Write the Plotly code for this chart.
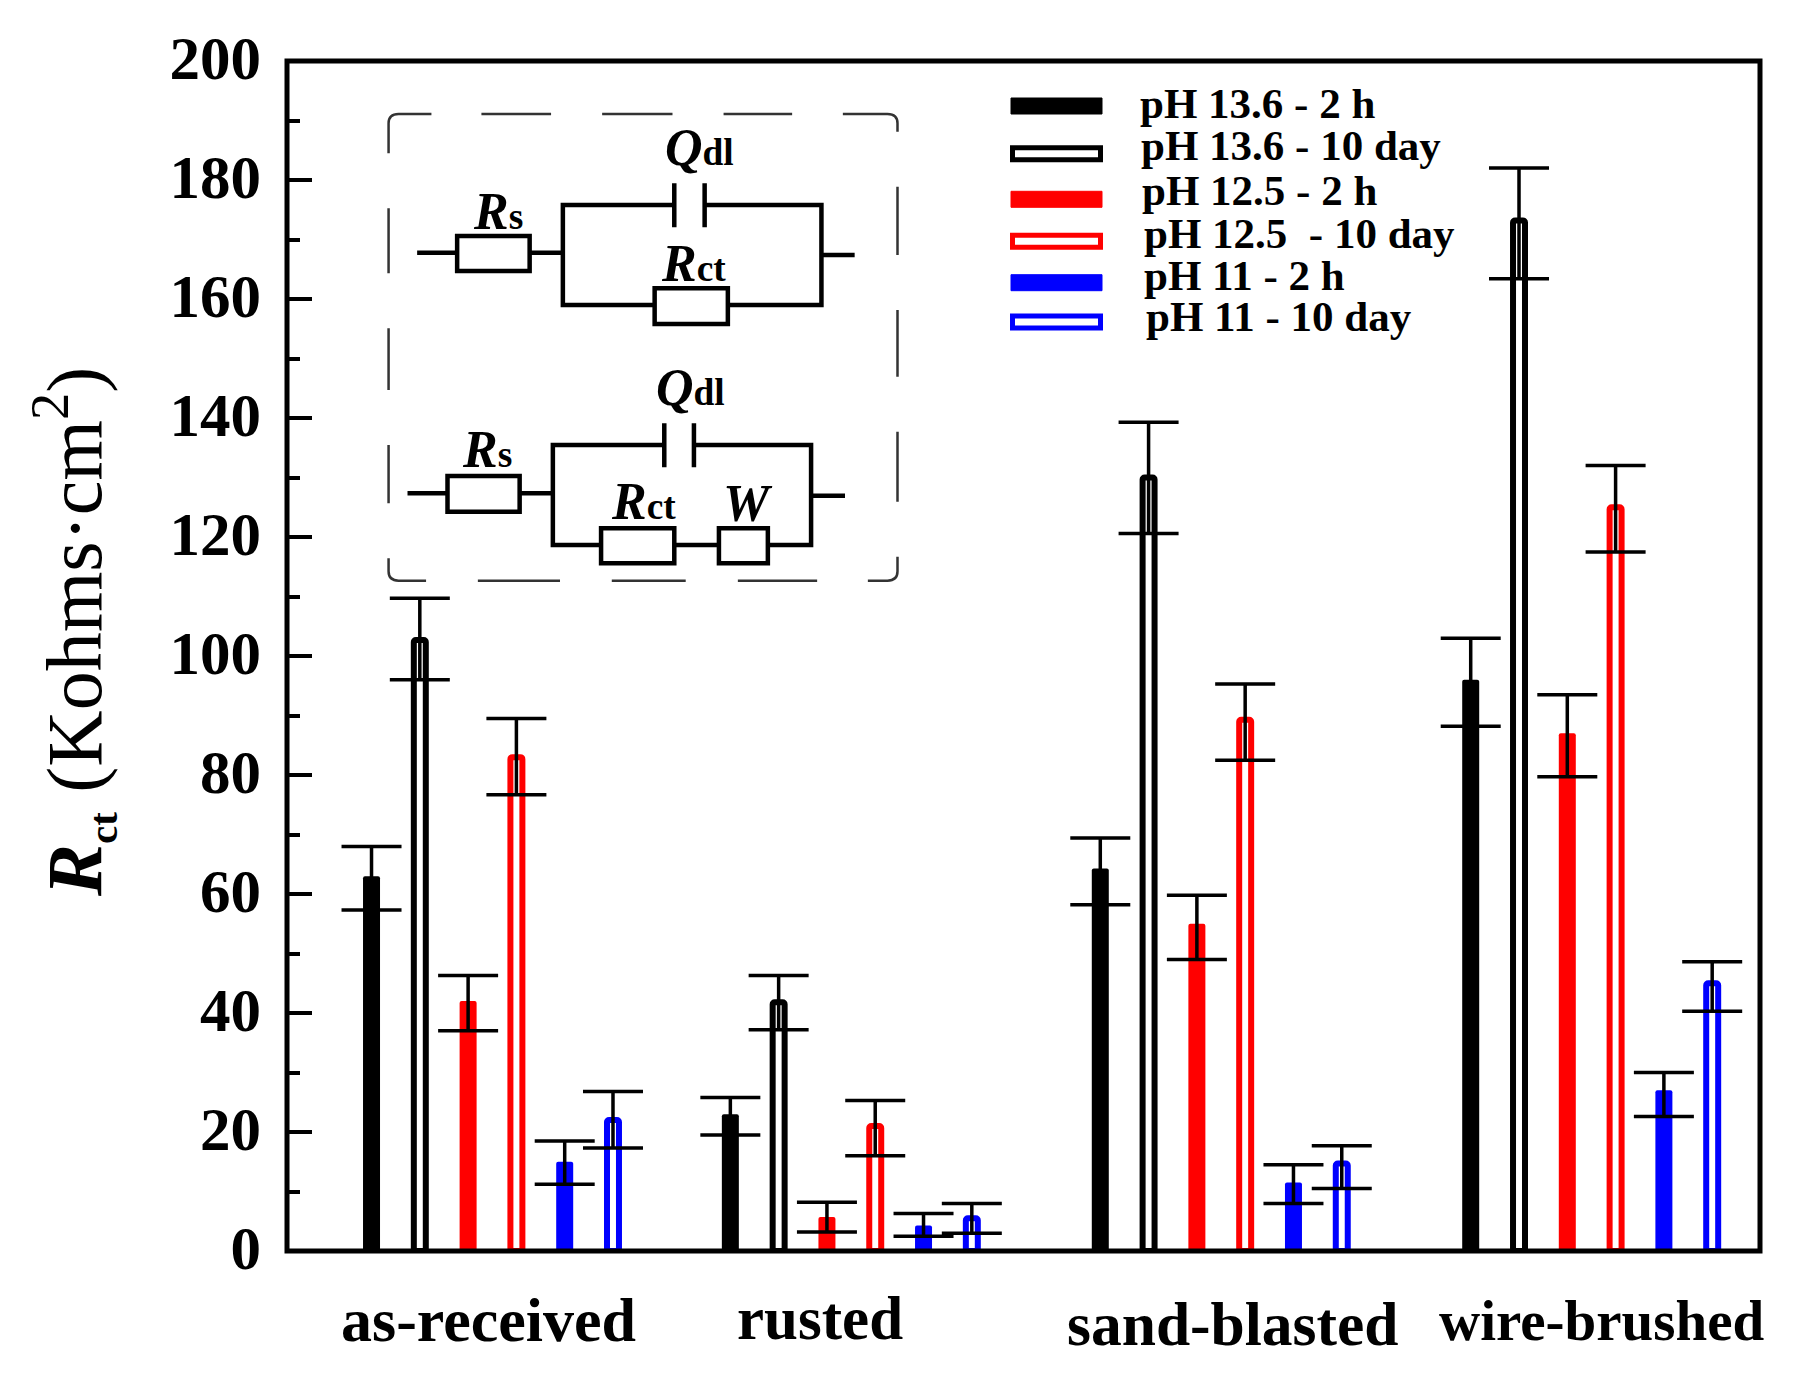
import plotly.graph_objects as go

# ---------- data ----------
categories = ["as-received", "rusted", "sand-blasted", "wire-brushed"]
group_offset = [0.0, 7.43, 15.09, 22.76]
series_names = ["pH 13.6 - 2 h", "pH 13.6 - 10 day", "pH 12.5 - 2 h", "pH 12.5 - 10 day", "pH 11 - 2 h", "pH 11 - 10 day"]
series_colors = ["#000000", "#000000", "#ff0000", "#ff0000", "#0000ff", "#0000ff"]
series_hollow = [False, True, False, True, False, True]

ph136_2h = [63.0, 23.0, 64.3, 96.0]
ph136_10d = [102.7, 41.8, 130.0, 173.2]
ph125_2h = [42.0, 5.7, 55.0, 87.0]
ph125_10d = [83.0, 21.0, 89.3, 125.0]
ph11_2h = [15.0, 4.3, 11.5, 27.0]
ph11_10d = [22.0, 5.5, 14.7, 45.0]

ph136_2h_hi = [68.0, 25.8, 69.4, 103.0]
ph136_10d_hi = [109.7, 46.3, 139.3, 182.0]
ph125_2h_hi = [46.3, 8.2, 59.8, 93.5]
ph125_10d_hi = [89.5, 25.3, 95.3, 132.0]
ph11_2h_hi = [18.5, 6.3, 14.5, 30.0]
ph11_10d_hi = [26.8, 8.0, 17.7, 48.6]

ph136_2h_lo = [57.3, 19.5, 58.2, 88.2]
ph136_10d_lo = [96.0, 37.2, 120.6, 163.4]
ph125_2h_lo = [37.0, 3.2, 49.0, 79.7]
ph125_10d_lo = [76.7, 16.0, 82.5, 117.5]
ph11_2h_lo = [11.2, 2.5, 8.0, 22.6]
ph11_10d_lo = [17.3, 3.0, 10.5, 40.3]

series_values = [ph136_2h, ph136_10d, ph125_2h, ph125_10d, ph11_2h, ph11_10d]
series_hi = [ph136_2h_hi, ph136_10d_hi, ph125_2h_hi, ph125_10d_hi, ph11_2h_hi, ph11_10d_hi]
series_lo = [ph136_2h_lo, ph136_10d_lo, ph125_2h_lo, ph125_10d_lo, ph11_2h_lo, ph11_10d_lo]

y_ticks = list(range(0, 201, 20))

# ---------- geometry ----------
W, H = 1793, 1376
L, R, T, B = 287, 1760, 61, 1251
FONT = "Liberation Serif"


def px(x):
    return (x - L) / (R - L)


def py(y):
    return 1 - (y - T) / (B - T)


fig = go.Figure()
for i, name in enumerate(series_names):
    vals = series_values[i]
    hollow = series_hollow[i]
    fig.add_trace(go.Bar(
        name=name,
        x=[off + i for off in group_offset],
        y=vals,
        width=0.248 if hollow else 0.352,
        showlegend=False,
        marker=dict(
            color="#ffffff" if hollow else series_colors[i],
            line=dict(color=series_colors[i], width=6 if hollow else 0),
            cornerradius=2,
        ),
        error_y=dict(
            type="data", symmetric=False,
            array=[h - v for h, v in zip(series_hi[i], vals)],
            arrayminus=[v - l for l, v in zip(series_lo[i], vals)],
            color="#000000", thickness=3.5, width=30,
        ),
    ))

shapes = []
annots = []


def text(x, y, s, size, angle=0, anchor="center", color="#000000"):
    annots.append(dict(
        xref="paper", yref="paper", x=px(x), y=py(y), text=s, showarrow=False,
        xanchor=anchor, yanchor="middle", textangle=angle, borderpad=0,
        font=dict(family=FONT, size=size, color=color),
    ))


# frame
shapes.append(dict(type="rect", xref="paper", yref="paper", x0=0, x1=1, y0=0, y1=1,
                   line=dict(color="#000000", width=5), layer="above"))

# category labels
cat_pos = [(488, 1320, 62), (820, 1318, 61), (1233, 1324, 61.5), (1601, 1320, 57)]
for c, (cx, cy, cs) in zip(categories, cat_pos):
    text(cx, cy, "<b>%s</b>" % c, cs)

# y title
text(72, 632, '<b><i>R</i></b><sub><b><span style="font-size:75%">ct</span></b></sub> (Kohms·cm<sup>2</sup>)', 78, angle=-90)

# legend
swatch_y = [106, 153.7, 199.3, 241.3, 282.7, 322]
legend_text_x = [1139, 1140, 1141, 1143, 1143, 1145]
legend_text_y = [104, 146, 190, 233, 275, 316]
legend_labels = ["pH 13.6 - 2 h", "pH 13.6 - 10 day", "pH 12.5 - 2 h", "pH 12.5 \u00a0- 10 day", "pH 11 - 2 h", "pH 11 - 10 day"]
for i, lab in enumerate(legend_labels):
    sy = swatch_y[i]
    if series_hollow[i]:
        shapes.append(dict(type="rect", xref="paper", yref="paper",
                           x0=px(1012.5), x1=px(1100.5), y0=py(sy + 6), y1=py(sy - 6),
                           fillcolor="#ffffff", line=dict(color=series_colors[i], width=5)))
    else:
        shapes.append(dict(type="rect", xref="paper", yref="paper",
                           x0=px(1011), x1=px(1102), y0=py(sy + 8), y1=py(sy - 8),
                           fillcolor=series_colors[i], line=dict(color=series_colors[i], width=1)))
    text(legend_text_x[i], legend_text_y[i], "<b>%s</b>" % lab, 43, anchor="left")


# inset (coordinates follow the zoomed inset: zx, zy)
def zx(v):
    return 360 + v / 2.8


def zy(v):
    return 90 + v / 3


def P(v, w):
    return "%.5f %.5f" % (px(zx(v)), py(zy(w)))


def path(d, width, color="#000000"):
    shapes.append(dict(type="path", xref="paper", yref="paper", path=d,
                       line=dict(color=color, width=width), layer="above"))


def seg(pts):
    return "M" + " L".join(P(*p) for p in pts)


# dashed frame
dash = []
r = 28
dash.append("M%s L%s Q%s %s L%s" % (P(80, 190), P(80, 72 + r), P(80, 72), P(80 + r, 72), P(200, 72)))
for a, b in [(340, 535), (678, 875), (1018, 1210)]:
    dash.append(seg([(a, 72), (b, 72)]))
dash.append("M%s L%s Q%s %s L%s" % (P(1352, 72), P(1505 - r, 72), P(1505, 72), P(1505, 72 + r), P(1505, 125)))
for a, b in [(290, 495), (660, 860), (1025, 1235)]:
    dash.append(seg([(1505, a), (1505, b)]))
dash.append("M%s L%s Q%s %s L%s" % (P(1505, 1400), P(1505, 1472 - r), P(1505, 1472), P(1505 - r, 1472), P(1422, 1472)))
for a, b in [(1058, 1280), (705, 912), (330, 560)]:
    dash.append(seg([(a, 1472), (b, 1472)]))
dash.append("M%s L%s Q%s %s L%s" % (P(185, 1472), P(80 + r, 1472), P(80, 1472), P(80, 1472 - r), P(80, 1405)))
for a, b in [(1065, 1240), (715, 900), (355, 550)]:
    dash.append(seg([(80, a), (80, b)]))
path(" ".join(dash), 2.5, "#333333")

LW = 4.5


def resistor(x0, y0, x1, y1):
    shapes.append(dict(type="rect", xref="paper", yref="paper",
                       x0=px(zx(x0)), x1=px(zx(x1)), y0=py(zy(y1)), y1=py(zy(y0)),
                       line=dict(color="#000000", width=LW), layer="above"))


# circuit 1
path(" ".join([
    seg([(160, 488), (272, 488)]), seg([(475, 488), (568, 488)]),
    seg([(880, 345), (568, 345), (568, 645), (825, 645)]),
    seg([(965, 345), (1292, 345), (1292, 645), (1030, 645)]),
    seg([(880, 280), (880, 412)]), seg([(965, 280), (965, 412)]),
    seg([(1292, 495), (1385, 495)]),
]), LW)
resistor(272, 438, 475, 543)
resistor(825, 595, 1030, 702)
# circuit 2
path(" ".join([
    seg([(133, 1210), (245, 1210)]), seg([(447, 1210), (540, 1210)]),
    seg([(852, 1065), (540, 1065), (540, 1365), (675, 1365)]),
    seg([(935, 1065), (1263, 1065), (1263, 1365), (1142, 1365)]),
    seg([(880, 1365), (1005, 1365)]),
    seg([(852, 1000), (852, 1132)]), seg([(935, 1000), (935, 1132)]),
    seg([(1263, 1217), (1358, 1217)]),
]), LW)
resistor(245, 1158, 447, 1265)
resistor(675, 1315, 880, 1420)
resistor(1005, 1315, 1142, 1420)


def sub(a, b):
    return '<b><i>%s</i><span style="font-size:72%%">%s</span></b>' % (a, b)


inset_labels = [
    (950, 173, sub("Q", "dl")),
    (385, 365, sub("R", "s")),
    (935, 520, sub("R", "ct")),
    (925, 893, sub("Q", "dl")),
    (355, 1080, sub("R", "s")),
    (795, 1235, sub("R", "ct")),
    (1085, 1240, "<b><i>W</i></b>"),
]
for a, b, s in inset_labels:
    text(zx(a), zy(b), s, 52)

fig.update_layout(
    width=W, height=H,
    margin=dict(l=L, r=W - R, t=T, b=H - B, pad=0),
    paper_bgcolor="#ffffff", plot_bgcolor="#ffffff",
    barmode="overlay",
    showlegend=False,
    font=dict(family=FONT, color="#000000"),
    shapes=shapes,
    annotations=annots,
    xaxis=dict(range=[-1.75, 28.75], showgrid=False, zeroline=False, showline=False,
               showticklabels=False, ticks=""),
    yaxis=dict(range=[0, 200], tickvals=y_ticks, ticktext=[str(v) for v in y_ticks],
               ticks="inside", ticklen=25, tickwidth=4, tickcolor="#000000",
               minor=dict(dtick=10, ticks="inside", ticklen=13, tickwidth=4, tickcolor="#000000", showgrid=False),
               showgrid=False, zeroline=False, showline=False,
               ticklabelposition="outside", ticklabelstandoff=25, ticklabelshift=-3,
               tickfont=dict(family=FONT, size=61, weight="bold", color="#000000")),
)

fig.write_html("out.html", config={"displayModeBar": False},
               post_script="document.body.style.margin='0';document.body.style.overflow='hidden';")
